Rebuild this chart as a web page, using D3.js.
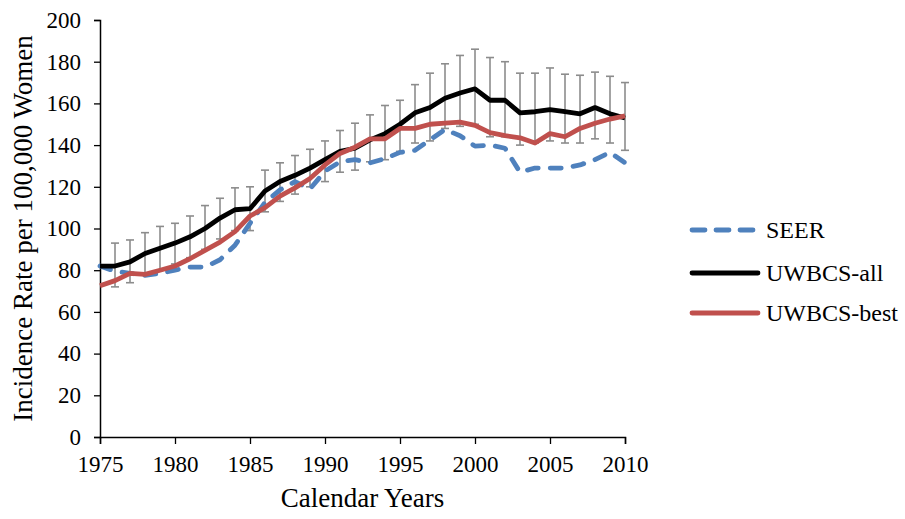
<!DOCTYPE html>
<html>
<head>
<meta charset="utf-8">
<script src="https://cdn.jsdelivr.net/npm/d3@7"></script>
<style>
	body { margin: 0; background: #fff; }
	svg { display: block; font-family: "Liberation Serif", "Times New Roman", serif; }
</style>
</head>
<body>
<div id="chart"></div>
<script>
// values
const years = d3.range(1975, 2011);
const seer = [82, 79.5, 78.5, 77.5, 78.5, 80, 81.5, 81.5, 85, 92, 102.5, 112.5,
	118.5, 122.5, 119, 127.5, 132, 133, 131.5, 133.5, 136.5, 137.5, 142.5, 147.5,
	144.5, 139.5, 140, 138.5, 127, 129, 129, 129, 130.5, 133, 136.5, 131.5];
const uwbcsAll = [82, 82, 84, 88, 90.5, 93, 96, 100, 105, 109, 109.5, 118,
	122.5, 125.5, 129, 133, 137, 138.5, 142.5, 145.5, 150, 155.5, 158, 162.5,
	165, 167, 161.5, 161.5, 155.5, 156, 157, 156, 155, 158, 155, 153];
const uwbcsBest = [72.5, 75, 78.5, 78, 80, 82, 85.5, 89.5, 93.5, 98.5, 106, 110,
	115.5, 119.5, 124, 130.5, 136, 139, 143, 143, 148, 148, 150, 150.5,
	151, 149.5, 146, 144.5, 143.5, 141, 145.5, 144, 148, 150.5, 152.5, 154];
// error bars of UWBCS-all (upper and lower ends), none drawn for 1975
const allUpper = [null, 93, 94.5, 98, 101, 102.5, 106, 111, 114.5, 119.5, 120, 128,
	131.5, 135, 138, 142, 147, 150.5, 154.5, 159, 161.5, 169, 174.5, 179,
	183, 186, 182, 180, 174.5, 174.5, 177, 174, 173.5, 175, 173, 170];
const allLower = [null, 72, 74, 78, 80, 83, 86, 90, 95, 99, 99, 108,
	113, 116.5, 120, 122.5, 127, 128, 132, 133, 137, 141, 142, 148,
	149, 150, 144, 144, 140, 141, 142, 141, 141, 143, 141, 137.5];
const yTicks = d3.range(0, 201, 20);
const xTicks = d3.range(1975, 2011, 5);

const width = 905, height = 519;
const margin = { left: 100, right: 280, top: 20, bottom: 82 };

const svg = d3.select("#chart").append("svg")
	.attr("width", width)
	.attr("height", height);

const x = d3.scaleLinear().domain([1975, 2010]).range([margin.left, width - margin.right]);
const y = d3.scaleLinear().domain([0, 200]).range([height - margin.bottom, margin.top]);

// axes
const yAxis = svg.append("g")
	.attr("transform", `translate(${margin.left},0)`)
	.call(d3.axisLeft(y).tickValues(yTicks).tickSize(6).tickPadding(13));
const xAxis = svg.append("g")
	.attr("transform", `translate(0,${y(0)})`)
	.call(d3.axisBottom(x).tickValues(xTicks).tickFormat(d3.format("d")).tickSize(7).tickPadding(12));
[xAxis, yAxis].forEach((g) => {
	g.select(".domain").attr("stroke", "#000").attr("stroke-width", 1.5);
	g.selectAll(".tick line").attr("stroke", "#000").attr("stroke-width", 1.3);
	g.selectAll("text").attr("fill", "#000").style("font-size", "23px")
		.style("font-family", "'Liberation Serif', serif");
});

// error bars
const bars = years.map((yr, i) => ({ yr, hi: allUpper[i], lo: allLower[i] }))
	.filter((d) => d.hi != null);
const eb = svg.append("g").attr("stroke", "#8c8c8c").attr("stroke-width", 1.6);
eb.selectAll("line.v").data(bars).join("line")
	.attr("class", "v")
	.attr("x1", (d) => x(d.yr)).attr("x2", (d) => x(d.yr))
	.attr("y1", (d) => y(d.hi)).attr("y2", (d) => y(d.lo));
["hi", "lo"].forEach((k) => {
	eb.selectAll("line.c" + k).data(bars).join("line")
		.attr("class", "c" + k)
		.attr("x1", (d) => x(d.yr) - 4).attr("x2", (d) => x(d.yr) + 4)
		.attr("y1", (d) => y(d[k])).attr("y2", (d) => y(d[k]));
});

// series
const series = [
	{ name: "SEER", values: seer, color: "#4f81bd", dash: "11,12" },
	{ name: "UWBCS-all", values: uwbcsAll, color: "#000000", dash: null },
	{ name: "UWBCS-best", values: uwbcsBest, color: "#c0504d", dash: null }
];
const line = d3.line().x((d, i) => x(years[i])).y((d) => y(d));

series.forEach((s) => {
	svg.append("path")
		.datum(s.values)
		.attr("fill", "none")
		.attr("stroke", s.color)
		.attr("stroke-width", 4.8)
		.attr("stroke-linejoin", "round")
		.attr("stroke-linecap", s.dash ? "round" : "butt")
		.attr("stroke-dasharray", s.dash)
		.attr("d", line);
});

// legend
const legendY = [230, 273, 313];
const legend = svg.append("g");
series.forEach((s, i) => {
	legend.append("line")
		.attr("x1", 692).attr("x2", 758)
		.attr("y1", legendY[i]).attr("y2", legendY[i])
		.attr("stroke", s.color)
		.attr("stroke-width", 4.8)
		.attr("stroke-linecap", "round")
		.attr("stroke-dasharray", s.dash ? "13,11" : null);
	legend.append("text")
		.attr("x", 766).attr("y", legendY[i])
		.attr("dy", "0.35em")
		.style("font-size", "24px")
		.text(s.name);
});

// axis titles
svg.append("text")
	.attr("x", (x(1975) + x(2010)) / 2)
	.attr("y", 507)
	.attr("text-anchor", "middle")
	.style("font-size", "27px")
	.text("Calendar Years");
svg.append("text")
	.attr("transform", `translate(32,${(y(0) + y(200)) / 2}) rotate(-90)`)
	.attr("text-anchor", "middle")
	.style("font-size", "27px")
	.text("Incidence Rate per 100,000 Women");
</script>
</body>
</html>
